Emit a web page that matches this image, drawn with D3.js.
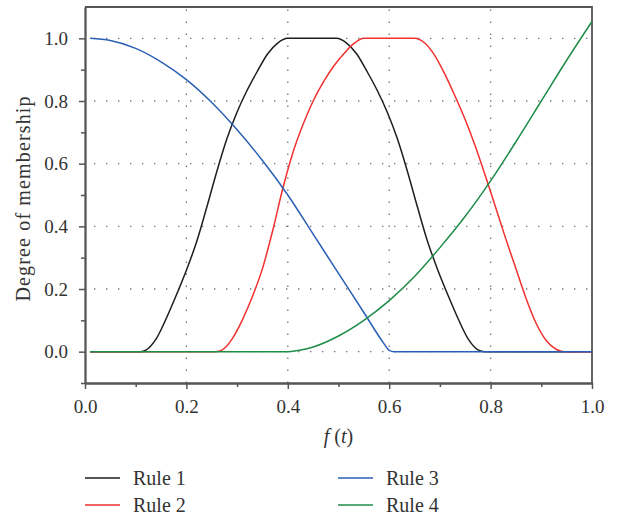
<!DOCTYPE html>
<html>
<head>
<meta charset="utf-8">
<script src="https://cdn.jsdelivr.net/npm/d3@7/dist/d3.min.js"></script>
<style>
  html, body { margin: 0; padding: 0; background: #fff; }
  svg { display: block; }
  text { font-family: "Liberation Serif", "Times New Roman", serif; fill: #333; }
</style>
</head>
<body>
<svg id="chart" width="618" height="514"></svg>
<script>
// ---- data ----
const seriesNames = ["Rule 1", "Rule 2", "Rule 3", "Rule 4"];
const seriesColors = ["#1e1e1e", "#f23030", "#2a5fb5", "#1f8c48"];

const rule1 = [
  [0.01, 0], [0.11, 0], [0.12, 0.005], [0.14, 0.04], [0.16, 0.105], [0.18, 0.18],
  [0.2, 0.26], [0.22, 0.35], [0.24, 0.46], [0.26, 0.575], [0.28, 0.68], [0.3, 0.765],
  [0.32, 0.835], [0.34, 0.895], [0.36, 0.95], [0.38, 0.985], [0.4, 1], [0.496, 1],
  [0.516, 0.985], [0.536, 0.95], [0.556, 0.895], [0.576, 0.835], [0.596, 0.765],
  [0.616, 0.68], [0.636, 0.575], [0.656, 0.46], [0.676, 0.35], [0.696, 0.26],
  [0.716, 0.18], [0.736, 0.105], [0.756, 0.04], [0.776, 0.005], [0.788, 0], [1.0, 0]
];
const rule2 = [
  [0.01, 0], [0.258, 0], [0.27, 0.005], [0.29, 0.04], [0.31, 0.1], [0.33, 0.175],
  [0.35, 0.265], [0.37, 0.385], [0.39, 0.52], [0.41, 0.635], [0.43, 0.725], [0.45, 0.8],
  [0.47, 0.86], [0.49, 0.91], [0.51, 0.95], [0.53, 0.983], [0.55, 1], [0.65, 1],
  [0.67, 0.985], [0.69, 0.945], [0.71, 0.885], [0.73, 0.815], [0.75, 0.74],
  [0.77, 0.655], [0.79, 0.56], [0.81, 0.46], [0.83, 0.36], [0.85, 0.265],
  [0.87, 0.17], [0.89, 0.09], [0.91, 0.035], [0.93, 0.007], [0.945, 0], [1.0, 0]
];
const rule3 = [
  [0.01, 1.0], [0.05, 0.993], [0.1, 0.968], [0.15, 0.925], [0.2, 0.868], [0.25, 0.795],
  [0.3, 0.708], [0.35, 0.61], [0.4, 0.5], [0.45, 0.375], [0.5, 0.25], [0.55, 0.125],
  [0.59, 0.025], [0.6, 0.004], [0.61, 0], [1.0, 0]
];
const rule4 = [
  [0.01, 0], [0.4, 0], [0.42, 0.004], [0.45, 0.015], [0.5, 0.05], [0.55, 0.1],
  [0.6, 0.163], [0.65, 0.24], [0.7, 0.332], [0.75, 0.432], [0.8, 0.545],
  [0.85, 0.67], [0.9, 0.8], [0.95, 0.93], [1.0, 1.054]
];
const seriesData = [rule1, rule2, rule3, rule4];

const xMajorTicks = [0, 0.2, 0.4, 0.6, 0.8, 1.0];
const xMinorTicks = [0.1, 0.3, 0.5, 0.7, 0.9];
const yMajorTicks = [0, 0.2, 0.4, 0.6, 0.8, 1.0];
const yMinorTicks = [-0.1, 0.1, 0.3, 0.5, 0.7, 0.9];
const xGrid = [0.2, 0.4, 0.6, 0.8];
const yGrid = [0, 0.2, 0.4, 0.6, 0.8, 1.0];

// ---- layout ----
const svg = d3.select("#chart");
const pLeft = 85, pRight = 592, pTop = 7, pBottom = 383;
const x = d3.scaleLinear().domain([0, 1]).range([pLeft, pRight]);
const y = d3.scaleLinear().domain([-0.1, 1.1]).range([pBottom, pTop]);
const axisColor = "#555";
const fmt = d3.format(".1f");

// grid
const grid = svg.append("g");
grid.selectAll("line.gx").data(xGrid).join("line")
  .attr("x1", d => x(d)).attr("x2", d => x(d))
  .attr("y1", pBottom).attr("y2", pTop)
  .attr("stroke", "#777").attr("stroke-width", 1.3)
  .attr("stroke-dasharray", "1.4 10.6");
grid.selectAll("line.gy").data(yGrid).join("line")
  .attr("y1", d => y(d)).attr("y2", d => y(d))
  .attr("x1", pLeft).attr("x2", pRight)
  .attr("stroke", "#777").attr("stroke-width", 1.3)
  .attr("stroke-dasharray", "1.4 10.6")
  .attr("stroke-dashoffset", -9);

// frame (top + right)
svg.append("path")
  .attr("d", `M${pLeft},${pTop}H${pRight}V${pBottom}`)
  .attr("fill", "none").attr("stroke", axisColor).attr("stroke-width", 1.8);

// lines
const line = d3.line().x(d => x(d[0])).y(d => y(d[1])).curve(d3.curveMonotoneX);
svg.append("g").selectAll("path").data(seriesData).join("path")
  .attr("d", line)
  .attr("fill", "none")
  .attr("stroke", (d, i) => seriesColors[i])
  .attr("stroke-width", 1.5);

// axes
function styleAxis(g) {
  g.select(".domain").attr("stroke", axisColor).attr("stroke-width", 1.8);
  g.selectAll(".tick line").attr("stroke", axisColor).attr("stroke-width", 1.5);
  g.selectAll(".tick text").attr("fill", "#333").style("font-size", "19px")
    .style("font-family", '"Liberation Serif", serif');
}
const xAxis = svg.append("g").attr("transform", `translate(0,${pBottom})`)
  .call(d3.axisBottom(x).tickValues(xMajorTicks).tickFormat(fmt).tickSize(6).tickSizeOuter(0).tickPadding(11));
styleAxis(xAxis);
const xMinor = svg.append("g").attr("transform", `translate(0,${pBottom})`)
  .call(d3.axisBottom(x).tickValues(xMinorTicks).tickFormat("").tickSize(4).tickSizeOuter(0));
styleAxis(xMinor);

const yAxis = svg.append("g").attr("transform", `translate(${pLeft},0)`)
  .call(d3.axisLeft(y).tickValues(yMajorTicks).tickFormat(fmt).tickSize(6).tickSizeOuter(0).tickPadding(11));
styleAxis(yAxis);
const yMinor = svg.append("g").attr("transform", `translate(${pLeft},0)`)
  .call(d3.axisLeft(y).tickValues(yMinorTicks).tickFormat("").tickSize(4).tickSizeOuter(0));
styleAxis(yMinor);

// axis titles
const xt = svg.append("text").attr("x", (pLeft + pRight) / 2).attr("y", 443)
  .attr("text-anchor", "middle").style("font-size", "20px");
xt.append("tspan").attr("font-style", "italic").text("f");
xt.append("tspan").text(" (");
xt.append("tspan").attr("font-style", "italic").text("t");
xt.append("tspan").text(")");

svg.append("text").attr("transform", "translate(30,199) rotate(-90)")
  .attr("text-anchor", "middle").style("font-size", "20px")
  .attr("textLength", 205).attr("lengthAdjust", "spacing")
  .text("Degree of membership");

// legend
const legendPos = [[85, 478], [85, 505], [338, 478], [338, 505]];
const lg = svg.append("g").selectAll("g").data(seriesNames).join("g")
  .attr("transform", (d, i) => `translate(${legendPos[i][0]},${legendPos[i][1]})`);
lg.append("line").attr("x1", 0).attr("x2", 35).attr("y1", 0).attr("y2", 0)
  .attr("stroke", (d, i) => seriesColors[i]).attr("stroke-width", 1.5);
lg.append("text").attr("x", 48).attr("y", 6.5).style("font-size", "20px").text(d => d);
</script>
</body>
</html>
